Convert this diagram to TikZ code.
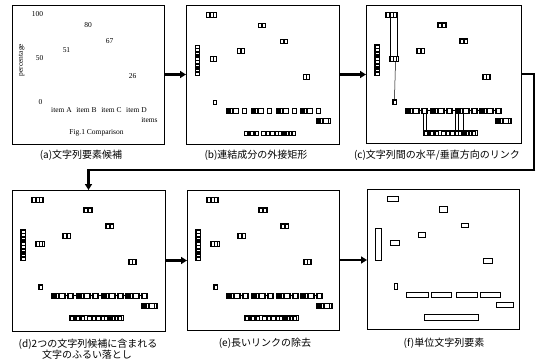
\documentclass[tikz,border=0pt]{standalone}
\usepackage{fontspec}
\setmainfont{Liberation Serif}
\newfontfamily\jp{Noto Sans CJK JP}
\usetikzlibrary{arrows.meta}

% row of glyph boxes: x start, y centre, height, widths
\newcommand\glyphs[4]{%
  \xdef\gx{#1}%
  \foreach \w in {#4}{%
    \draw[gl] (\gx,{#2-#3/2}) rectangle ({\gx+\w-0.7},{#2+#3/2});
    \pgfmathsetmacro\tmp{\gx+\w}\global\let\gx\tmp
  }%
}
% vertical column of glyph boxes (reading upward): x centre, y bottom, width, heights
\newcommand\vglyphs[4]{%
  \xdef\gy{#2}%
  \foreach \h in {#4}{%
    \draw[gl] ({#1-#3/2},\gy) rectangle ({#1+#3/2},{\gy-\h+0.7});
    \pgfmathsetmacro\tmp{\gy-\h}\global\let\gy\tmp
  }%
}
\newcommand\allglyphs{%
  \glyphs{20.5}{9.5}{4.5}{3.5,3.5,3.5}%
  \glyphs{72.5}{20}{4.5}{3.5,3.5}%
  \glyphs{94.5}{36}{4.5}{3.5,3.5}%
  \glyphs{51.5}{45.5}{4.5}{3.5,3.5}%
  \glyphs{24}{53.5}{4.5}{3.5,3.5}%
  \glyphs{117}{71.5}{4.5}{3.5,3.5}%
  \glyphs{27}{97}{4.5}{3.5}%
  \foreach \X in {40,65,90,114}{%
    \glyphs{\X}{105.5}{4.5}{2,2,3.1,5.4}%
    \glyphs{\X+16}{105.5}{4.5}{5}%
  }%
  \glyphs{130}{115.5}{4.5}{2,2,3.1,5.4,2.7}%
  \glyphs{58}{128}{4.5}{3.9,2,3.5,1.75,3.5}%
  \glyphs{75.5}{128}{4.5}{4.7,3.5,5.4,3.5,3.1,2.3,2,2.7,3.5,3.5}%
  \vglyphs{11}{70}{4}{3.5,3.1,2.3,3.1,3.1,3.5,2,3.1,3.5,3.1}%
}
\newcommand\allframes{%
  \draw[fr] (19.5,7) rectangle (31.5,12);
  \draw[fr] (71.5,17.5) rectangle (80,22.5);
  \draw[fr] (93.5,33.5) rectangle (101.5,38.5);
  \draw[fr] (50.5,43) rectangle (58.5,48);
  \draw[fr] (23,51) rectangle (32,56);
  \draw[fr] (116,69) rectangle (124.5,74);
  \draw[fr] (26.5,94.5) rectangle (30.5,99.5);
  \foreach \X in {40,65,90,114}{%
    \draw[fr] (\X-0.5,103) rectangle (\X+13,108);
    \draw[fr] (\X+15.5,103) rectangle (\X+21,108);
  }
  \draw[fr] (129.5,113) rectangle (145.5,118);
  \draw[fr] (57.5,125.5) rectangle (111.5,130.5);
  \draw[fr] (8.5,39) rectangle (13.5,70.5);
}
\newcommand\wordlinks{%
  \foreach \X in {40,65,90,114}{\draw[lnk] (\X+13,105.5) -- (\X+15.5,105.5);}
}
\newcommand\rowlinks{%
  \draw[lnk] (61,105.5) -- (64.5,105.5);
  \draw[lnk] (86,105.5) -- (89.5,105.5);
  \draw[lnk] (111,105.5) -- (113.5,105.5);
}

\begin{document}
\begin{tikzpicture}[x=1pt,y=-1pt,
  panel/.style={draw, line width=0.9pt, inner sep=0pt, outer sep=0pt},
  gl/.style={draw, line width=0.3pt},
  fr/.style={draw, line width=0.5pt},
  lnk/.style={line width=0.5pt},
  ub/.style={draw, line width=0.6pt},
  lbl/.style={font=\fontsize{7.5}{8}\selectfont, inner sep=0pt},
  captext/.style={font=\jp\fontsize{10}{11}\selectfont, inner sep=0pt},
  bigarrow/.style={line width=2.5pt, -{Triangle[length=6pt,width=7pt]}}]
\useasboundingbox (0,0) rectangle (539,359);

% panels
\node[panel, minimum width=152pt, minimum height=139pt] (pa) at (88,74.5) {};
\node[panel, minimum width=153pt, minimum height=139pt] (pb) at (262.5,74.5) {};
\node[panel, minimum width=155pt, minimum height=138pt] (pc) at (443.5,74) {};
\node[panel, minimum width=153pt, minimum height=141pt] (pd) at (88.5,260.5) {};
\node[panel, minimum width=152pt, minimum height=140pt] (pe) at (263,260) {};
\node[panel, minimum width=152pt, minimum height=140pt] (pf) at (443,259) {};

% (a) text
\begin{scope}[shift={(12,5)}]
  \node[lbl] (t100) at (25.5,9.5) {100};
  \node[lbl] (t80) at (76,20) {80};
  \node[lbl] (t67) at (97.5,36) {67};
  \node[lbl] (t51) at (54.5,45.5) {51};
  \node[lbl] (t50) at (27.5,53.5) {50};
  \node[lbl] (t26) at (120.5,71.5) {26};
  \node[lbl] (t0) at (28.5,97) {0};
  \node[lbl] (tA) at (49.5,105.5) {item A};
  \node[lbl] (tB) at (74.5,105.5) {item B};
  \node[lbl] (tC) at (99.5,105.5) {item C};
  \node[lbl] (tD) at (124.5,105.5) {item D};
  \node[lbl] (titems) at (137.5,115.5) {items};
  \node[lbl] (tfig) at (84.5,128) {Fig.1 Comparison};
  \node[lbl, rotate=90] (tperc) at (9.5,55) {percentage};
\end{scope}

% (b) bounding boxes of connected components
\begin{scope}[shift={(186,5)}]
  \allglyphs
\end{scope}

% (c) links
\begin{scope}[shift={(366,5)}]
  \allglyphs
  \allframes
  \wordlinks
  \rowlinks
  \draw[lnk] (24,12) -- (24,51);
  \draw[lnk] (31,12) -- (31,51);
  \draw[lnk] (29.5,56) -- (28.5,94.5);
  \foreach \x in {57,60,89,92,97}{\draw[lnk] (\x,108) -- (\x,125.5);}
\end{scope}

% (d)
\begin{scope}[shift={(12,190)}]
  \allglyphs
  \allframes
  \wordlinks
  \rowlinks
\end{scope}

% (e)
\begin{scope}[shift={(187,190)}]
  \allglyphs
  \allframes
  \wordlinks
\end{scope}

% (f) unit string elements
\begin{scope}[shift={(367,189)}]
  \draw[ub] (20,7) rectangle (31,12);
  \draw[ub] (72,17) rectangle (80,23);
  \draw[ub] (94,34) rectangle (101,38);
  \draw[ub] (51,43) rectangle (58,48);
  \draw[ub] (23,51) rectangle (32,56);
  \draw[ub] (8,39) rectangle (14,71);
  \draw[ub] (116,69) rectangle (125,74);
  \draw[ub] (27,94) rectangle (30,100);
  \draw[ub] (39,103) rectangle (61,108);
  \draw[ub] (64,103) rectangle (84,108);
  \draw[ub] (89,103) rectangle (110,108);
  \draw[ub] (113,103) rectangle (133,108);
  \draw[ub] (129,113) rectangle (146,118);
  \draw[ub] (57,125) rectangle (111,131);
\end{scope}

% captions
\node[captext] (ca) at (81,155) {(a)文字列要素候補};
\node[captext] (cb) at (256,155) {(b)連結成分の外接矩形};
\node[captext] (cc) at (437,155) {(c)文字列間の水平/垂直方向のリンク};
\node[captext] (cd1) at (88,344) {(d)2つの文字列候補に含まれる};
\node[captext] (cd2) at (87,354.5) {文字のふるい落とし};
\node[captext] (ce) at (265,343) {(e)長いリンクの除去};
\node[captext] (cf) at (444,343) {(f)単位文字列要素};

% arrows
\coordinate (turn) at (534,170);
\draw[bigarrow] (pa.east) -- (pa.east -| pb.west);
\draw[bigarrow] (pb.east) -- (pb.east -| pc.west);
\draw[line width=2.5pt] (pc.east) -| (turn);
\draw[bigarrow] ([xshift=1.25pt]turn) -| (pd.north);
\draw[bigarrow] (pd.east) -- (pd.east -| pe.west);
\draw[bigarrow] (pe.east) -- (pe.east -| pf.west);
\end{tikzpicture}
\end{document}
